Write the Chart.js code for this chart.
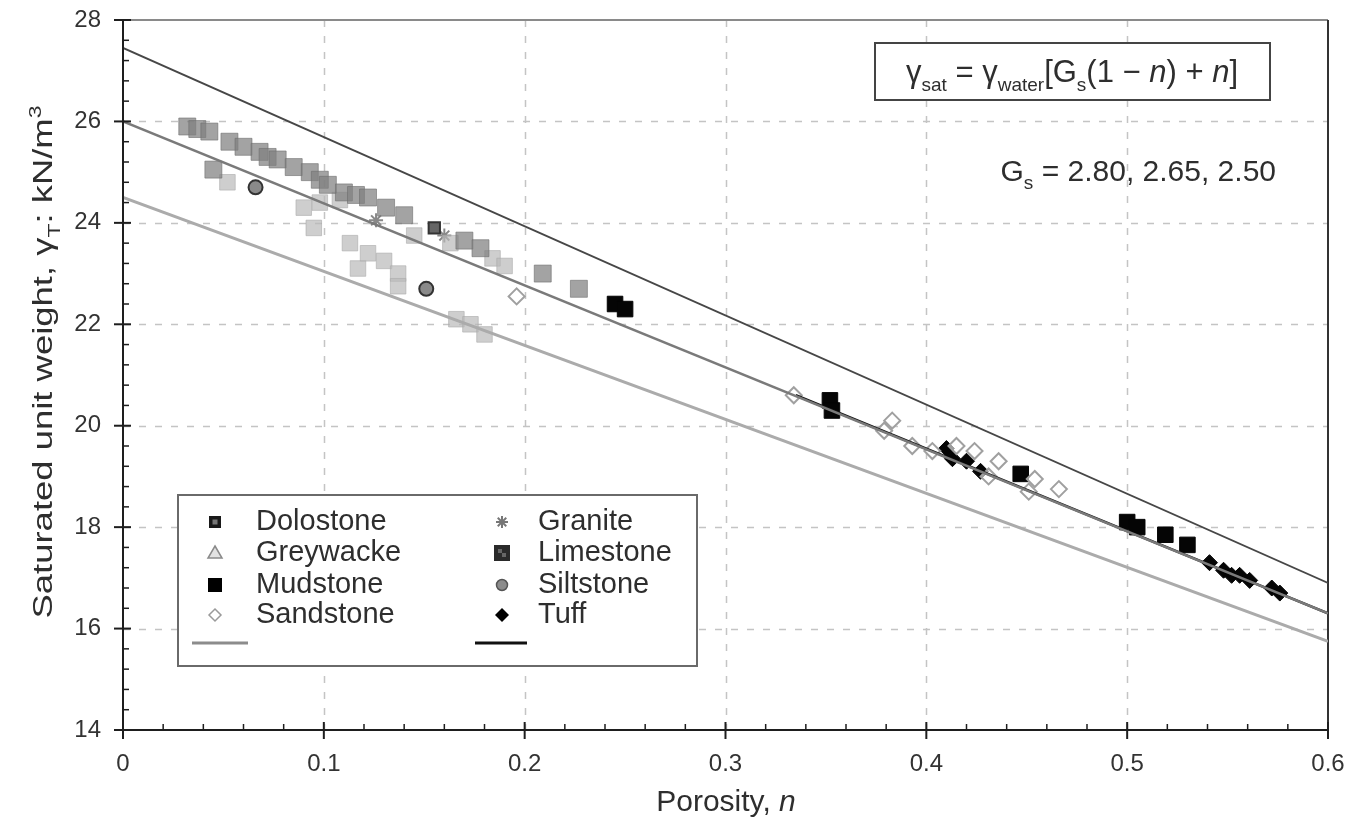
<!DOCTYPE html>
<html>
<head>
<meta charset="utf-8">
<script src="https://cdn.jsdelivr.net/npm/chart.js@4.4.1/dist/chart.umd.min.js"></script>
<style>
  html, body { margin: 0; background: #fff; }
  #wrap { width: 1350px; height: 840px; }
</style>
</head>
<body>
<div id="wrap"><canvas id="chart" width="1350" height="840"></canvas></div>
<script>
// porosity n / saturated unit weight (kN/m3) per rock type
const limestoneN = [0.032, 0.037, 0.043, 0.053, 0.060, 0.068, 0.072, 0.077, 0.085, 0.093, 0.098, 0.102, 0.110, 0.116, 0.122, 0.131, 0.140, 0.045, 0.170, 0.178, 0.209, 0.227];
const limestoneG = [25.9, 25.85, 25.8, 25.6, 25.5, 25.4, 25.3, 25.25, 25.1, 25.0, 24.85, 24.75, 24.6, 24.55, 24.5, 24.3, 24.15, 25.05, 23.65, 23.5, 23.0, 22.7];

const greywackeN = [0.052, 0.090, 0.095, 0.098, 0.108, 0.113, 0.117, 0.122, 0.130, 0.137, 0.137, 0.145, 0.163, 0.184, 0.190, 0.166, 0.173, 0.180];
const greywackeG = [24.8, 24.3, 23.9, 24.4, 24.45, 23.6, 23.1, 23.4, 23.25, 23.0, 22.75, 23.75, 23.6, 23.3, 23.15, 22.1, 22.0, 21.8];

const dolostoneN = [0.155];
const dolostoneG = [23.9];

const graniteN = [0.160, 0.126];
const graniteG = [23.75, 24.05];

const mudstoneN = [0.245, 0.250, 0.352, 0.353, 0.447, 0.500, 0.505, 0.519, 0.530];
const mudstoneG = [22.4, 22.3, 20.5, 20.3, 19.05, 18.1, 18.0, 17.85, 17.65];

const tuffN = [0.410, 0.413, 0.420, 0.427, 0.541, 0.548, 0.552, 0.556, 0.561, 0.572, 0.576];
const tuffG = [19.55, 19.35, 19.3, 19.1, 17.3, 17.15, 17.05, 17.05, 16.95, 16.8, 16.7];

const sandstoneN = [0.196, 0.334, 0.379, 0.383, 0.393, 0.403, 0.415, 0.424, 0.431, 0.436, 0.451, 0.454, 0.466];
const sandstoneG = [22.55, 20.6, 19.9, 20.1, 19.6, 19.5, 19.6, 19.5, 19.0, 19.3, 18.7, 18.95, 18.75];

const siltstoneN = [0.066, 0.151];
const siltstoneG = [24.7, 22.7];

// theoretical lines, Gs = 2.80, 2.65, 2.50 (end points)
const lineN = [0, 0.6];
const gs280 = [27.45, 16.9];
const gs265 = [26.0, 16.3];
const gs250 = [24.5, 15.75];
const fitN = [0.335, 0.6];
const fitG = [20.6, 16.3];

const xTicks = [0, 0.1, 0.2, 0.3, 0.4, 0.5, 0.6];
const yTicks = [14, 16, 18, 20, 22, 24, 26, 28];

const legendLeft = ['Dolostone', 'Greywacke', 'Mudstone', 'Sandstone'];
const legendRight = ['Granite', 'Limestone', 'Siltstone', 'Tuff'];

const FONT = '"Liberation Sans", Arial, Helvetica, sans-serif';
const INK = '#2e2e2e';

function pts(xs, ys) {
  return xs.map((x, i) => ({ x: x, y: ys[i] }));
}

function markerSet(label, xs, ys, style, radius, bg, border, bw) {
  return {
    label: label, data: pts(xs, ys), showLine: false, order: 2,
    pointStyle: style, pointRadius: radius, pointHoverRadius: radius,
    backgroundColor: bg, borderColor: border, borderWidth: bw
  };
}

function lineSet(label, xs, ys, color, width) {
  return {
    label: label, data: pts(xs, ys), showLine: true, order: 1,
    pointRadius: 0, borderColor: color, borderWidth: width, fill: false
  };
}

// rich text: parts of {t, sub, sup, it}
function partFont(p, size) {
  const s = (p.sub || p.sup) ? Math.round(size * 0.62) : size;
  return (p.it ? 'italic ' : '') + s + 'px ' + FONT;
}
function richWidth(ctx, parts, size) {
  let w = 0;
  parts.forEach(p => { ctx.font = partFont(p, size); w += ctx.measureText(p.t).width; });
  return w;
}
function drawRich(ctx, parts, x, y, size, align) {
  let cx = x;
  const w = richWidth(ctx, parts, size);
  if (align === 'center') cx = x - w / 2;
  if (align === 'right') cx = x - w;
  ctx.textBaseline = 'alphabetic';
  ctx.textAlign = 'left';
  parts.forEach(p => {
    ctx.font = partFont(p, size);
    let dy = 0;
    if (p.sub) dy = size * 0.28;
    if (p.sup) dy = -size * 0.4;
    ctx.fillText(p.t, cx, y + dy);
    cx += ctx.measureText(p.t).width;
  });
}

function legendMarker(ctx, name, x, y) {
  ctx.save();
  ctx.lineWidth = 1.5;
  if (name === 'Dolostone') {
    ctx.fillStyle = '#1a1a1a'; ctx.fillRect(x - 6, y - 6, 12, 12);
    ctx.fillStyle = '#777'; ctx.fillRect(x - 2.5, y - 2.5, 5, 5);
  } else if (name === 'Greywacke') {
    ctx.fillStyle = '#e2e2e2'; ctx.strokeStyle = '#8a8a8a';
    ctx.beginPath(); ctx.moveTo(x, y - 7); ctx.lineTo(x + 7, y + 5); ctx.lineTo(x - 7, y + 5); ctx.closePath();
    ctx.fill(); ctx.stroke();
  } else if (name === 'Mudstone') {
    ctx.fillStyle = '#000'; ctx.fillRect(x - 7, y - 7, 14, 14);
  } else if (name === 'Sandstone') {
    ctx.fillStyle = '#fff'; ctx.strokeStyle = '#9a9a9a';
    ctx.beginPath(); ctx.moveTo(x, y - 6); ctx.lineTo(x + 6, y); ctx.lineTo(x, y + 6); ctx.lineTo(x - 6, y); ctx.closePath();
    ctx.fill(); ctx.stroke();
  } else if (name === 'Granite') {
    ctx.strokeStyle = '#777'; ctx.lineWidth = 2;
    for (let a = 0; a < 4; a++) {
      const ang = a * Math.PI / 4;
      ctx.beginPath();
      ctx.moveTo(x - 6 * Math.cos(ang), y - 6 * Math.sin(ang));
      ctx.lineTo(x + 6 * Math.cos(ang), y + 6 * Math.sin(ang));
      ctx.stroke();
    }
  } else if (name === 'Limestone') {
    ctx.fillStyle = '#2a2a2a'; ctx.fillRect(x - 8, y - 8, 16, 16);
    ctx.fillStyle = '#666'; ctx.fillRect(x - 4, y - 4, 4, 4); ctx.fillRect(x, y, 4, 4);
  } else if (name === 'Siltstone') {
    ctx.fillStyle = '#8c8c8c'; ctx.strokeStyle = '#555';
    ctx.beginPath(); ctx.arc(x, y, 5.5, 0, Math.PI * 2); ctx.fill(); ctx.stroke();
  } else if (name === 'Tuff') {
    ctx.fillStyle = '#000';
    ctx.beginPath(); ctx.moveTo(x, y - 7); ctx.lineTo(x + 7, y); ctx.lineTo(x, y + 7); ctx.lineTo(x - 7, y); ctx.closePath();
    ctx.fill();
  }
  ctx.restore();
}

const decor = {
  id: 'decor',
  beforeDatasetsDraw(chart) {
    const ctx = chart.ctx, xs = chart.scales.x, ys = chart.scales.y, a = chart.chartArea;
    ctx.save();
    // dashed grid
    ctx.strokeStyle = '#c4c4c4'; ctx.lineWidth = 1.5; ctx.setLineDash([7, 9]);
    xTicks.slice(1, -1).forEach(v => {
      const px = Math.round(xs.getPixelForValue(v)) + 0.5;
      ctx.beginPath(); ctx.moveTo(px, a.top); ctx.lineTo(px, a.bottom); ctx.stroke();
    });
    yTicks.slice(1, -1).forEach(v => {
      const py = Math.round(ys.getPixelForValue(v)) + 0.5;
      ctx.beginPath(); ctx.moveTo(a.left, py); ctx.lineTo(a.right, py); ctx.stroke();
    });
    ctx.setLineDash([]);
    // frame top / right
    ctx.strokeStyle = '#8a8a8a'; ctx.lineWidth = 2;
    ctx.beginPath(); ctx.moveTo(a.left, a.top); ctx.lineTo(a.right, a.top); ctx.stroke();
    ctx.strokeStyle = '#333';
    ctx.beginPath(); ctx.moveTo(a.right, a.top); ctx.lineTo(a.right, a.bottom); ctx.stroke();
    ctx.restore();
  },
  afterDatasetsDraw(chart) {
    const ctx = chart.ctx, xs = chart.scales.x, ys = chart.scales.y, a = chart.chartArea;
    ctx.save();
    // axes
    ctx.strokeStyle = '#1e1e1e'; ctx.lineWidth = 2;
    ctx.beginPath(); ctx.moveTo(a.left, a.top); ctx.lineTo(a.left, a.bottom); ctx.lineTo(a.right, a.bottom); ctx.stroke();
    // major ticks cross the axis, minor ticks point inwards
    ctx.lineWidth = 2;
    xTicks.forEach(v => {
      const px = xs.getPixelForValue(v);
      ctx.beginPath(); ctx.moveTo(px, a.bottom - 8); ctx.lineTo(px, a.bottom + 9); ctx.stroke();
    });
    yTicks.forEach(v => {
      const py = ys.getPixelForValue(v);
      ctx.beginPath(); ctx.moveTo(a.left - 9, py); ctx.lineTo(a.left + 8, py); ctx.stroke();
    });
    ctx.lineWidth = 1.5;
    for (let i = 1; i < 30; i++) {
      if (i % 5 === 0) continue;
      const px = xs.getPixelForValue(i * 0.02);
      ctx.beginPath(); ctx.moveTo(px, a.bottom); ctx.lineTo(px, a.bottom - 6); ctx.stroke();
    }
    for (let i = 1; i < 35; i++) {
      if (i % 5 === 0) continue;
      const py = ys.getPixelForValue(14 + i * 0.4);
      ctx.beginPath(); ctx.moveTo(a.left, py); ctx.lineTo(a.left + 6, py); ctx.stroke();
    }

    // formula box
    ctx.fillStyle = '#fff'; ctx.fillRect(875, 43, 395, 57);
    ctx.strokeStyle = '#444'; ctx.lineWidth = 2; ctx.strokeRect(875, 43, 395, 57);
    ctx.fillStyle = INK;
    drawRich(ctx, [{ t: 'γ' }, { t: 'sat', sub: 1 }, { t: ' = γ' }, { t: 'water', sub: 1 }, { t: '[G' }, { t: 's', sub: 1 },
      { t: '(1 − ' }, { t: 'n', it: 1 }, { t: ') + ' }, { t: 'n', it: 1 }, { t: ']' }], 1072, 82, 31, 'center');
    drawRich(ctx, [{ t: 'G' }, { t: 's', sub: 1 }, { t: ' = 2.80, 2.65, 2.50' }], 1276, 181, 30, 'right');

    // legend box
    ctx.fillStyle = '#fff'; ctx.fillRect(178, 495, 519, 171);
    ctx.strokeStyle = '#6a6a6a'; ctx.lineWidth = 2; ctx.strokeRect(178, 495, 519, 171);
    const rows = [522, 553, 585, 615];
    const legendFont = '29px ' + FONT;
    legendLeft.forEach((name, i) => {
      legendMarker(ctx, name, 215, rows[i]);
      ctx.fillStyle = INK; ctx.font = legendFont; ctx.textBaseline = 'middle'; ctx.textAlign = 'left';
      ctx.fillText(name, 256, rows[i]);
    });
    legendRight.forEach((name, i) => {
      legendMarker(ctx, name, 502, rows[i]);
      ctx.fillStyle = INK; ctx.font = legendFont; ctx.textBaseline = 'middle'; ctx.textAlign = 'left';
      ctx.fillText(name, 538, rows[i]);
    });
    ctx.lineWidth = 3;
    ctx.strokeStyle = '#8c8c8c';
    ctx.beginPath(); ctx.moveTo(192, 643); ctx.lineTo(248, 643); ctx.stroke();
    ctx.strokeStyle = '#111';
    ctx.beginPath(); ctx.moveTo(475, 643); ctx.lineTo(527, 643); ctx.stroke();

    // axis titles
    ctx.fillStyle = INK;
    drawRich(ctx, [{ t: 'Porosity, ' }, { t: 'n', it: 1 }], 726, 811, 30, 'center');
    ctx.translate(52, 362);
    ctx.rotate(-Math.PI / 2);
    ctx.scale(1.35, 1);
    drawRich(ctx, [{ t: 'Saturated unit weight, γ' }, { t: 'T', sub: 1 }, { t: ': kN/m' }, { t: '3', sup: 1 }], 0, 0, 27, 'center');
    ctx.restore();
  }
};

new Chart(document.getElementById('chart'), {
  type: 'scatter',
  data: {
    datasets: [
      lineSet('Gs 2.80', lineN, gs280, '#474747', 1.8),
      lineSet('Gs 2.65', lineN, gs265, '#7a7a7a', 2.6),
      lineSet('Gs 2.50', lineN, gs250, '#ababab', 3),
      lineSet('fit', fitN, fitG, '#111', 2.6),
      markerSet('Limestone', limestoneN, limestoneG, 'rect', 12, 'rgba(128,128,128,0.72)', 'rgba(110,110,110,0.6)', 1),
      markerSet('Greywacke', greywackeN, greywackeG, 'rect', 11, 'rgba(185,185,185,0.7)', 'rgba(170,170,170,0.6)', 1),
      markerSet('Dolostone', dolostoneN, dolostoneG, 'rect', 8, '#666', '#333', 2),
      markerSet('Granite', graniteN, graniteG, 'star', 7, '#888', '#888', 2),
      markerSet('Siltstone', siltstoneN, siltstoneG, 'circle', 7, '#8a8a8a', '#333', 2),
      markerSet('Sandstone', sandstoneN, sandstoneG, 'rectRot', 8, 'rgba(255,255,255,0.6)', '#a0a0a0', 2),
      markerSet('Mudstone', mudstoneN, mudstoneG, 'rect', 11, '#050505', '#050505', 1),
      markerSet('Tuff', tuffN, tuffG, 'rectRot', 8, '#050505', '#050505', 1)
    ]
  },
  options: {
    responsive: false,
    animation: false,
    layout: { padding: { left: 0, top: 20, right: 22, bottom: 0 } },
    plugins: { legend: { display: false }, tooltip: { enabled: false } },
    scales: {
      x: {
        type: 'linear', min: 0, max: 0.6,
        afterFit(scale) { scale.height = 110; scale.paddingLeft = 0; scale.paddingRight = 0; },
        afterBuildTicks(scale) { scale.ticks = xTicks.map(v => ({ value: v })); },
        grid: { display: false, drawTicks: false },
        border: { display: false },
        ticks: {
          padding: 20, color: '#333', font: { family: FONT, size: 24 },
          callback: v => (v === 0 ? '0' : Number(v).toFixed(1))
        }
      },
      y: {
        type: 'linear', min: 14, max: 28,
        afterFit(scale) { scale.width = 123; scale.paddingTop = 0; scale.paddingBottom = 0; },
        afterBuildTicks(scale) { scale.ticks = yTicks.map(v => ({ value: v })); },
        grid: { display: false, drawTicks: false },
        border: { display: false },
        ticks: { padding: 22, color: '#333', font: { family: FONT, size: 24 } }
      }
    }
  },
  plugins: [decor]
});
</script>
</body>
</html>
